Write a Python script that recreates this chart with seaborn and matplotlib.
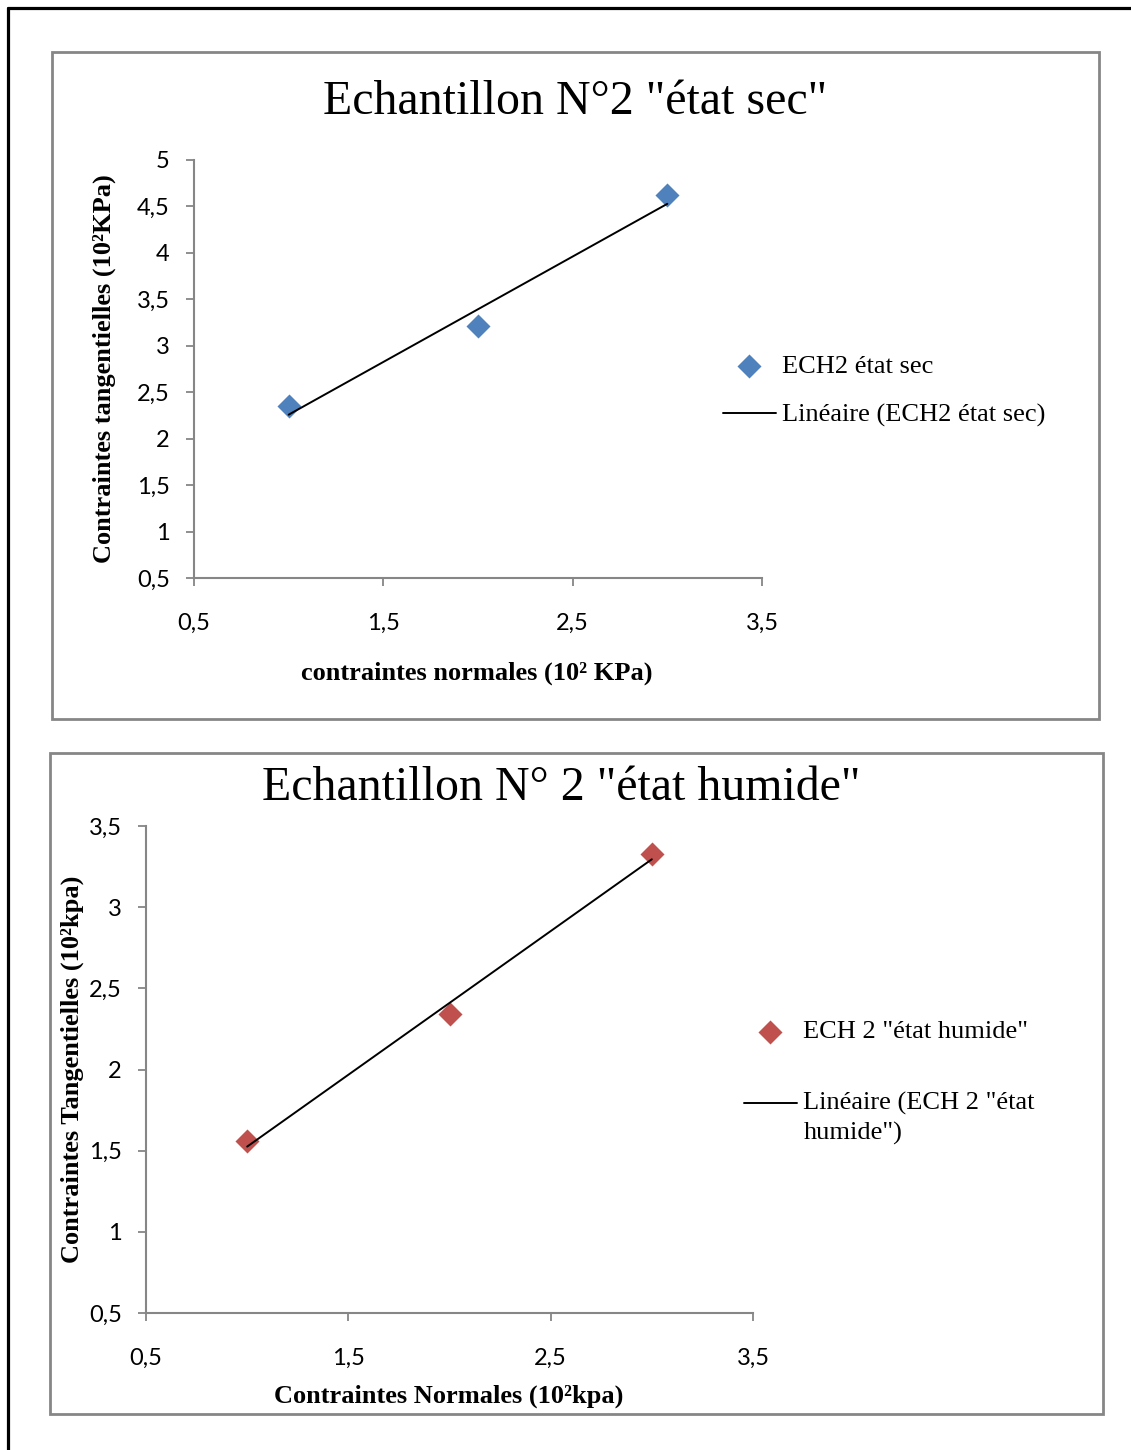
import matplotlib
matplotlib.use("Agg")
import matplotlib.pyplot as plt
from matplotlib.patches import Rectangle
from matplotlib.lines import Line2D
from matplotlib.legend_handler import HandlerLine2D
from matplotlib.ticker import FuncFormatter
import pandas as pd
import seaborn as sns

# --- data ---
x_sec = [1, 2, 3]
y_sec = [2.35, 3.21, 4.62]

x_hum = [1, 2, 3]
y_hum = [1.56, 2.34, 3.33]

xticks = [0.5, 1.5, 2.5, 3.5]
yticks_sec = [0.5, 1, 1.5, 2, 2.5, 3, 3.5, 4, 4.5, 5]
yticks_hum = [0.5, 1, 1.5, 2, 2.5, 3, 3.5]

BLUE = "#4F81BD"
RED = "#C0504D"
GRAY = "#868686"
SERIF = "Liberation Serif"
SANS = "Lato"

W, H = 1131, 1450

sns.set_theme(style="white")
plt.rcParams["font.family"] = [SANS, "DejaVu Sans"]
plt.rcParams["text.color"] = "black"
plt.rcParams["axes.labelcolor"] = "black"

fig = plt.figure(figsize=(W / 100, H / 100), dpi=100)


def fx(px):
    return px / W


def fy(py):
    return 1 - py / H


comma = FuncFormatter(lambda v, pos: f"{v:g}".replace(".", ","))


class RaisedLine(HandlerLine2D):
    # legend line sitting on the first line of a two-line label
    def __init__(self, shift, **kw):
        super().__init__(**kw)
        self.shift = shift

    def create_artists(self, legend, orig_handle, xdescent, ydescent,
                       width, height, fontsize, trans):
        arts = super().create_artists(legend, orig_handle, xdescent, ydescent,
                                      width, height, fontsize, trans)
        for a in arts:
            a.set_ydata([y + self.shift for y in a.get_ydata()])
        return arts


# page border (top + left)
fig.add_artist(Line2D([fx(8), 1.0], [fy(8), fy(8)], color="black", lw=2.3,
                      transform=fig.transFigure))
fig.add_artist(Line2D([fx(8), fx(8)], [fy(8), 0.0], color="black", lw=2.3,
                      transform=fig.transFigure))

# chart boxes
for (x0, y0, x1, y1) in [(52, 52, 1099, 719), (50, 753, 1103, 1414)]:
    fig.add_artist(Rectangle((fx(x0), fy(y1)), fx(x1 - x0), (y1 - y0) / H,
                             transform=fig.transFigure, fill=False,
                             edgecolor=GRAY, lw=2.0))


def style_axes(ax, yticks):
    ax.set_xlim(0.5, 3.5)
    ax.set_ylim(yticks[0], yticks[-1])
    ax.set_xticks(xticks)
    ax.set_yticks(yticks)
    ax.xaxis.set_major_formatter(comma)
    ax.yaxis.set_major_formatter(comma)
    for s in ["top", "right"]:
        ax.spines[s].set_visible(False)
    for s in ["left", "bottom"]:
        ax.spines[s].set_color(GRAY)
        ax.spines[s].set_linewidth(1.5)
    ax.tick_params(axis="both", which="major", direction="out", length=5.5,
                   width=1.3, color=GRAY, labelsize=17, labelcolor="black",
                   bottom=True, left=True)
    ax.tick_params(axis="x", pad=19.5)
    ax.tick_params(axis="y", pad=12)
    ax.set_facecolor("white")
    ax.grid(False)


def draw(ax, x, y, color, label):
    df = pd.DataFrame({"x": x, "y": y})
    sns.scatterplot(data=df, x="x", y="y", ax=ax, marker="D", s=150,
                    color=color, edgecolor=color, linewidth=0, label=label,
                    zorder=2)
    sns.regplot(data=df, x="x", y="y", ax=ax, scatter=False, ci=None,
                truncate=True, color="black", line_kws={"lw": 1.4, "zorder": 3},
                label=f"Linéaire ({label})")


# --- chart 1: état sec ---
ax1 = fig.add_axes([fx(194), fy(578), fx(762 - 194), (578 - 160) / H])
draw(ax1, x_sec, y_sec, BLUE, "ECH2 état sec")
style_axes(ax1, yticks_sec)
ax1.set_xlabel("contraintes normales (10² KPa)", fontfamily=SERIF,
               fontweight="bold", fontsize=19)
ax1.set_ylabel("Contraintes tangentielles (10²KPa)", fontfamily=SERIF,
               fontweight="bold", fontsize=19)
ax1.xaxis.set_label_coords((477 - 194) / 568, (578 - 662) / 418)
ax1.yaxis.set_label_coords((116 - 194) / 568, 0.5)
fig.text(fx(575), fy(102), 'Echantillon N°2 "état sec"', fontfamily=SERIF,
         fontsize=34.5, ha="center", va="center")
h, l = ax1.get_legend_handles_labels()
ax1.legend(h, l, loc="center left", bbox_to_anchor=(fx(723), fy(391)),
           bbox_transform=fig.transFigure, frameon=False, borderpad=0,
           borderaxespad=0, handlelength=2.0, handletextpad=0.25,
           labelspacing=0.95, prop={"family": SERIF, "size": 19})

# --- chart 2: état humide ---
ax2 = fig.add_axes([fx(146), fy(1313), fx(753 - 146), (1313 - 826) / H])
draw(ax2, x_hum, y_hum, RED, 'ECH 2 "état humide"')
style_axes(ax2, yticks_hum)
ax2.set_xlabel("Contraintes Normales (10²kpa)", fontfamily=SERIF,
               fontweight="bold", fontsize=19)
ax2.set_ylabel("Contraintes Tangentielles (10²kpa)", fontfamily=SERIF,
               fontweight="bold", fontsize=19)
ax2.xaxis.set_label_coords((449 - 146) / 607, (1313 - 1385) / 487)
ax2.yaxis.set_label_coords((84 - 146) / 607, 0.5)
fig.text(fx(561), fy(788), 'Echantillon N° 2 "état humide"', fontfamily=SERIF,
         fontsize=34.5, ha="center", va="center")
h, l = ax2.get_legend_handles_labels()
l = [l[0], 'Linéaire (ECH 2 "état\nhumide")']
leg2 = ax2.legend(h, l, loc="upper left", bbox_to_anchor=(fx(744), fy(1020)),
                  bbox_transform=fig.transFigure, frameon=False, borderpad=0,
                  borderaxespad=0, handlelength=2.0, handletextpad=0.25,
                  labelspacing=1.85, prop={"family": SERIF, "size": 19},
                  handler_map={h[1]: RaisedLine(11)})
for t in leg2.get_texts():
    t.set_linespacing(1.38)

fig.savefig("out.png", dpi=100, facecolor="white")
